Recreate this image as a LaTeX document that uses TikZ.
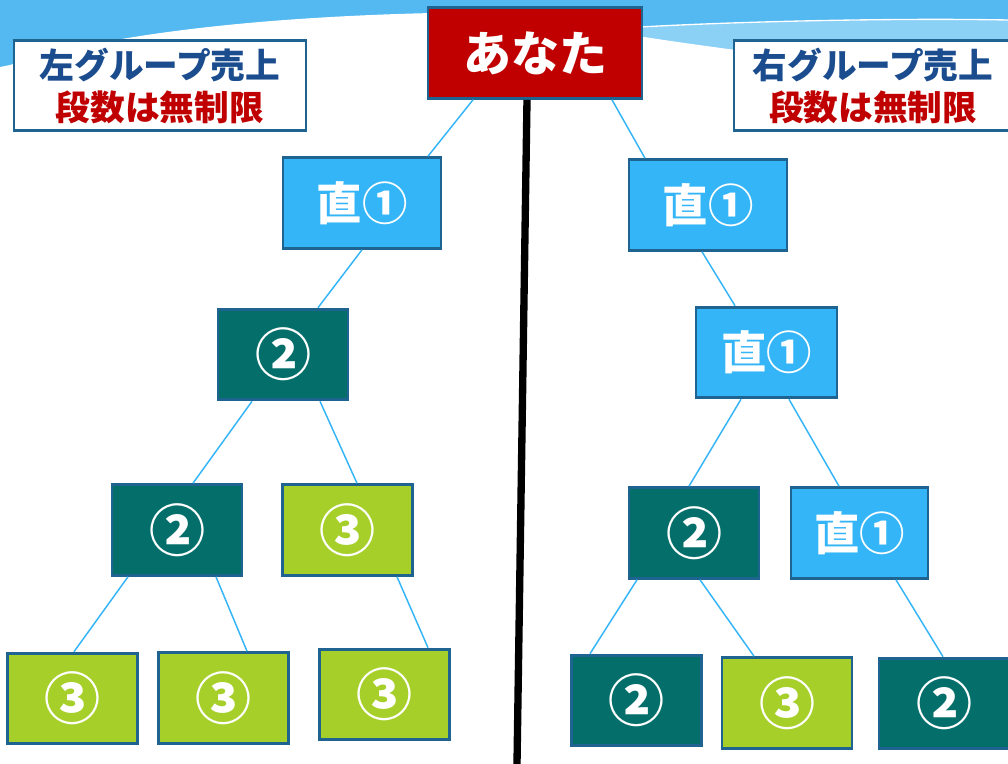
\documentclass[tikz,border=0pt]{standalone}
\usepackage{fontspec}
\newfontfamily\jp{Noto Sans CJK JP}
\usetikzlibrary{calc}

\definecolor{skyblue}{HTML}{54B9F0}
\definecolor{skylight}{HTML}{8BD0F5}
\definecolor{boxline}{HTML}{1F6391}
\definecolor{youred}{HTML}{C00000}
\definecolor{directblue}{HTML}{33B5F7}
\definecolor{tealbox}{HTML}{046E6B}
\definecolor{limebox}{HTML}{A6D029}
\definecolor{labelblue}{HTML}{1A4C8E}
\definecolor{linkblue}{HTML}{33B5F7}

\begin{document}
\begin{tikzpicture}[x=0.75pt,y=-0.75pt,
  box/.style={draw=boxline,line width=2.2pt,text=white,inner sep=0pt,
    minimum width=97.5pt,minimum height=68pt,
    font=\jp\bfseries\fontsize{42}{42}\selectfont},
  direct/.style={box,fill=directblue,minimum width=118.5pt,
    font=\jp\bfseries\fontsize{34}{34}\selectfont},
  second/.style={box,fill=tealbox},
  third/.style={box,fill=limebox},
  grouplabel/.style={draw=boxline,line width=2.2pt,fill=white,inner sep=0pt,
    minimum width=219pt,minimum height=68pt,align=center,
    font=\jp\bfseries\fontsize{26}{31.5}\selectfont},
  link/.style={linkblue,line width=1.1pt}]
\useasboundingbox (0,0) rectangle (1008,764);

% Background wave
\fill[white] (0,0) rectangle (1008,764);
\fill[skyblue] (0,0) rectangle (1008,80);
\fill[skylight] (560,32) .. controls (700,22) and (900,18) .. (1008,20) -- (1008,80) -- (560,80) -- cycle;
\draw[white,line width=1pt] (640,27) .. controls (750,21) and (900,18) .. (1008,20);
\fill[white] (0,67) -- (10,65) .. controls (120,30) and (300,12) .. (520,12)
  -- (600,30) .. controls (650,38) and (700,46) .. (800,58) -- (1008,66)
  -- (1008,764) -- (0,764) -- cycle;

% Top
\node[box,fill=youred,minimum width=160.5pt,font=\jp\bfseries\fontsize{36}{36}\selectfont] (top) at (535,53) {あなた};

% Group labels
\node[grouplabel] (lgroup) at (160,85.5) {\textcolor{labelblue}{左グループ売上}\\\textcolor{youred}{段数は無制限}};
\node[grouplabel,minimum width=208.5pt] (rgroup) at (873,85.5) {\textcolor{labelblue}{右グループ売上}\\\textcolor{youred}{段数は無制限}};

% Divider
\coordinate (divend) at (517,764);
\draw[black,line width=5.5pt] ($(top.south)+(-8,0)$) -- (divend);

% Left group
\node[direct] (l1) at (362,203) {直①};
\node[second] (l2) at (283,354.5) {②};
\node[second] (l3a) at (177,530) {②};
\node[third] (l3b) at (347.5,530) {③};
\node[third] (l4a) at (72.5,698.5) {③};
\node[third] (l4b) at (223.5,698) {③};
\node[third] (l4c) at (384.5,694.5) {③};

% Right group
\node[direct] (r1) at (708,205) {直①};
\node[direct,minimum width=105.75pt] (r2) at (766.5,352.5) {直①};
\node[second] (r3a) at (694,533) {②};
\node[direct,minimum width=102.75pt] (r3b) at (859.5,533) {直①};
\node[second] (r4a) at (636.5,700.5) {②};
\node[third] (r4b) at (787,703) {③};
\node[second] (r4c) at (944,703.5) {②};

% Links
\draw[link] ($(top.south)+(-62,0)$) -- ($(l1.north)+(66,0)$);
\draw[link] ($(top.south)+(77,0)$) -- ($(r1.north)+(-63,0)$);
\draw[link] (l1.south) -- ($(l2.north)+(35,0)$);
\draw[link] ($(l2.south)+(-31,0)$) -- ($(l3a.north)+(16,0)$);
\draw[link] ($(l2.south)+(37,0)$) -- ($(l3b.north)+(9.5,0)$);
\draw[link] ($(l3a.south)+(-49,0)$) -- ($(l4a.north)+(1.5,0)$);
\draw[link] ($(l3a.south)+(39,0)$) -- ($(l4b.north)+(23.5,0)$);
\draw[link] ($(l3b.south)+(49.5,0)$) -- ($(l4c.north)+(43.5,0)$);
\draw[link] ($(r1.south)+(-6,0)$) -- ($(r2.north)+(-31.5,0)$);
\draw[link] ($(r2.south)+(-25.5,0)$) -- ($(r3a.north)+(-5,0)$);
\draw[link] ($(r2.south)+(22.5,0)$) -- ($(r3b.north)+(-20.5,0)$);
\draw[link] ($(r3a.south)+(-57,0)$) -- ($(r4a.north)+(-46.5,0)$);
\draw[link] ($(r3a.south)+(6,0)$) -- ($(r4b.north)+(-33,0)$);
\draw[link] ($(r3b.south)+(36.5,0)$) -- ($(r4c.north)+(-1,0)$);
\end{tikzpicture}
\end{document}
